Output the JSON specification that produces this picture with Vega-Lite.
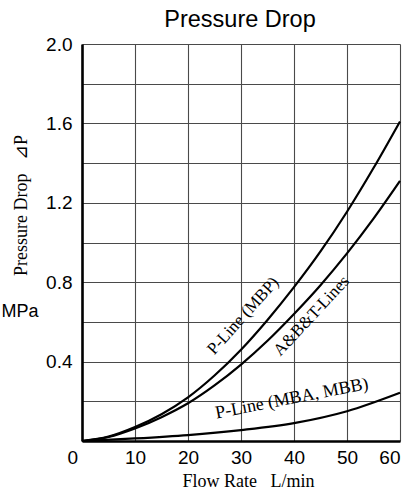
{
  "$schema": "https://vega.github.io/schema/vega-lite/v6.json",
  "width": 318,
  "height": 397,
  "autosize": {"type": "none"},
  "padding": {"left": 82, "top": 44, "right": 7, "bottom": 49},
  "background": "white",
  "title": {
    "text": "Pressure Drop",
    "font": "Liberation Sans",
    "fontSize": 23.5,
    "fontWeight": "normal",
    "color": "black",
    "frame": "group",
    "anchor": "middle",
    "dx": -1,
    "offset": 4
  },
  "config": {
    "view": {"stroke": null},
    "axis": {
      "labelFont": "Liberation Sans",
      "labelFontSize": 19,
      "labelColor": "black",
      "ticks": false,
      "tickSize": 0,
      "domainColor": "black",
      "domainWidth": 2.6,
      "gridColor": "#4a4a4a",
      "gridWidth": 1.1,
      "gridOpacity": 1,
      "titleFont": "Liberation Serif",
      "titleFontSize": 18,
      "titleFontWeight": "normal",
      "titleColor": "black"
    }
  },
  "encoding": {
    "x": {
      "field": "x",
      "type": "quantitative",
      "scale": {"domain": [0, 60], "nice": false, "zero": false},
      "axis": {
        "values": [0, 10, 20, 30, 40, 50, 60],
        "title": "Flow Rate\u00a0\u00a0\u00a0L/min",
        "titlePadding": 5,
        "titleX": 166,
        "labelPadding": 7,
        "labelOffset": {"condition": {"test": "datum.value == 0", "value": -15}, "value": 0}
      }
    },
    "y": {
      "field": "y",
      "type": "quantitative",
      "scale": {"domain": [0, 2], "nice": false, "zero": false},
      "axis": {
        "values": [0, 0.2, 0.4, 0.6, 0.8, 1.0, 1.2, 1.4, 1.6, 1.8, 2.0],
        "labelExpr": "datum.value == 0 || round(datum.value * 5) % 2 == 1 ? '' : format(datum.value, '.1f')",
        "labelPadding": 10,
        "title": "Pressure Drop\u00a0\u00a0\u00a0⊿P",
        "titleAngle": 270,
        "titleBaseline": "alphabetic",
        "titleAlign": "center",
        "titleX": -56,
        "titleY": 161
      }
    }
  },
  "layer": [
    {
      "data": {
        "values": [
          {"series": "MBP", "x": 0, "y": 0},
          {"series": "MBP", "x": 5, "y": 0.022},
          {"series": "MBP", "x": 10, "y": 0.07},
          {"series": "MBP", "x": 15, "y": 0.135},
          {"series": "MBP", "x": 20, "y": 0.22},
          {"series": "MBP", "x": 25, "y": 0.33},
          {"series": "MBP", "x": 30, "y": 0.46},
          {"series": "MBP", "x": 35, "y": 0.61},
          {"series": "MBP", "x": 40, "y": 0.775},
          {"series": "MBP", "x": 45, "y": 0.955},
          {"series": "MBP", "x": 50, "y": 1.155},
          {"series": "MBP", "x": 55, "y": 1.375},
          {"series": "MBP", "x": 60, "y": 1.61},
          {"series": "ABT", "x": 0, "y": 0},
          {"series": "ABT", "x": 5, "y": 0.02},
          {"series": "ABT", "x": 10, "y": 0.063},
          {"series": "ABT", "x": 15, "y": 0.12},
          {"series": "ABT", "x": 20, "y": 0.19},
          {"series": "ABT", "x": 25, "y": 0.28},
          {"series": "ABT", "x": 30, "y": 0.385},
          {"series": "ABT", "x": 35, "y": 0.505},
          {"series": "ABT", "x": 40, "y": 0.64},
          {"series": "ABT", "x": 45, "y": 0.785},
          {"series": "ABT", "x": 50, "y": 0.945},
          {"series": "ABT", "x": 55, "y": 1.12},
          {"series": "ABT", "x": 60, "y": 1.31},
          {"series": "MBA", "x": 0, "y": 0},
          {"series": "MBA", "x": 10, "y": 0.013},
          {"series": "MBA", "x": 20, "y": 0.03},
          {"series": "MBA", "x": 30, "y": 0.055},
          {"series": "MBA", "x": 40, "y": 0.09},
          {"series": "MBA", "x": 50, "y": 0.15},
          {"series": "MBA", "x": 60, "y": 0.243}
        ]
      },
      "mark": {"type": "line", "interpolate": "monotone", "color": "black", "strokeWidth": 2.2},
      "encoding": {"detail": {"field": "series", "type": "nominal"}}
    },
    {
      "data": {"values": [{"x": 30.4, "y": 0.63, "label": "P-Line (MBP)"}]},
      "mark": {"type": "text", "font": "Liberation Serif", "fontSize": 17, "angle": -48, "align": "center", "baseline": "middle", "color": "black"},
      "encoding": {"text": {"field": "label"}}
    },
    {
      "data": {"values": [{"x": 43.3, "y": 0.63, "label": "A&B&T-Lines"}]},
      "mark": {"type": "text", "font": "Liberation Serif", "fontSize": 17, "angle": -47, "align": "center", "baseline": "middle", "color": "black"},
      "encoding": {"text": {"field": "label"}}
    },
    {
      "data": {"values": [{"x": 39.6, "y": 0.213, "label": "P-Line (MBA, MBB)"}]},
      "mark": {"type": "text", "font": "Liberation Serif", "fontSize": 18, "angle": -11, "align": "center", "baseline": "middle", "color": "black"},
      "encoding": {"text": {"field": "label"}}
    },
    {
      "data": {"values": [{"x": -11.7, "y": 0.65, "label": "MPa"}]},
      "mark": {"type": "text", "font": "Liberation Sans", "fontSize": 18, "align": "center", "baseline": "middle", "color": "black"},
      "encoding": {"text": {"field": "label"}}
    }
  ]
}
